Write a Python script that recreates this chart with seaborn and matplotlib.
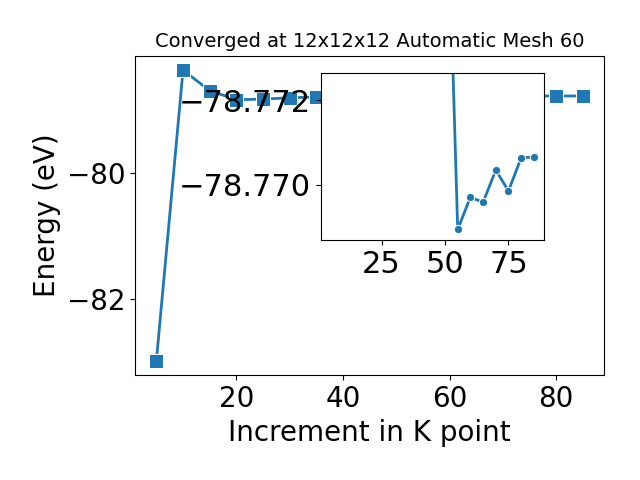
import matplotlib
matplotlib.use("Agg")
import matplotlib.pyplot as plt
import seaborn as sns

# k-point increments and total energies (eV)
kpoints = [5, 10, 15, 20, 25, 30, 35, 40, 45, 50, 55, 60, 65, 70, 75, 80, 85]
energy = [-82.99, -78.36, -78.685, -78.83, -78.82, -78.80, -78.785, -78.782,
          -78.78, -78.779, -78.76895, -78.76971, -78.76959, -78.77035,
          -78.76986, -78.77064, -78.77066]

# the inset only shows the converged tail, from 50 on
tail_start = 9

inset_yticks = [-78.772, -78.770]
inset_xticks = [25, 50, 75]

fig = plt.figure(figsize=(6.4, 4.8), dpi=100)
ax = fig.add_axes([0.211, 0.218, 0.733, 0.666])

sns.lineplot(x=kpoints, y=energy, marker="s", markersize=10, linewidth=2, ax=ax)
ax.set_title("Converged at 12x12x12 Automatic Mesh 60", fontsize=14)
ax.set_xlabel("Increment in K point", fontsize=20)
ax.set_ylabel("Energy (eV)", fontsize=20)
ax.tick_params(labelsize=20)

# zoomed inset of the converged region
ax2 = fig.add_axes([0.501, 0.5, 0.349, 0.3485])
sns.lineplot(x=kpoints[tail_start:], y=energy[tail_start:], marker="o",
             markersize=6, linewidth=2, ax=ax2)
ax2.set_xlim(ax.get_xlim())
ax2.set_ylim(-78.7687, -78.77265)
ax2.set_yticks(inset_yticks)
ax2.set_xticks(inset_xticks)
ax2.ticklabel_format(useOffset=False)
ax2.tick_params(labelsize=22)

fig.savefig("out.png", dpi=100)
